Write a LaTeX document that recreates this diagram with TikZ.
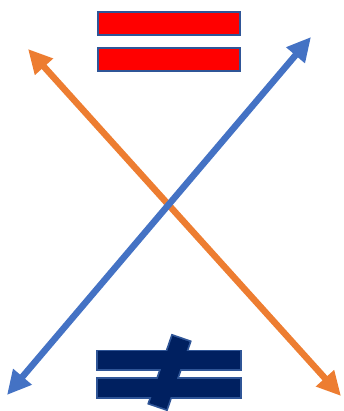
\documentclass[tikz,border=0pt]{standalone}
\usepackage{tikz}
\usetikzlibrary{arrows.meta}

\definecolor{eqred}{HTML}{FF0000}
\definecolor{neqnavy}{HTML}{002060}
\definecolor{barline}{HTML}{2F5597}
\definecolor{crossorange}{HTML}{ED7D31}
\definecolor{crossblue}{HTML}{4472C4}

\begin{document}
\begin{tikzpicture}[
    x=1pt, y=1pt,
    bar/.style={rectangle, draw=barline, line width=2pt, minimum width=142pt, inner sep=0pt},
    eqbar/.style={bar, fill=eqred, minimum height=23pt},
    neqbar/.style={bar, fill=neqnavy, minimum height=18pt},
    slash/.style={bar, fill=neqnavy, minimum width=18pt, minimum height=71pt, rotate=-19},
    outline/.style={line width=3.5pt},
    fillonly/.style={draw=none},
    both/.style={{Triangle[length=24pt,width=23pt]}-{Triangle[length=24pt,width=23pt]}, line width=6.5pt}
]
    \useasboundingbox (0,0) rectangle (343,411);

    % --- EQUAL SIGN ---
    \node[eqbar] (EqTop) at (169, 387) {};
    \node[eqbar] (EqBottom) at (169, 351) {};

    % --- NOT EQUAL SIGN (outlines first, then fills so it reads as one shape) ---
    \node[neqbar, outline] (NeqTop) at (169, 50.5) {};
    \node[neqbar, outline] (NeqBottom) at (169, 23) {};
    \node[slash, outline] (NeqSlash) at (169.5, 38.5) {};
    \node[neqbar, fillonly] (NeqTopFill) at (NeqTop) {};
    \node[neqbar, fillonly] (NeqBottomFill) at (NeqBottom) {};
    \node[slash, fillonly] (NeqSlashFill) at (NeqSlash) {};

    % --- CROSSING ARROWS ---
    \coordinate (OrangeStart) at (28, 362);
    \coordinate (OrangeEnd) at (341, 15);
    \coordinate (BlueStart) at (311, 374);
    \coordinate (BlueEnd) at (7, 16);

    \draw[both, draw=crossorange, fill=crossorange] (OrangeStart) -- (OrangeEnd);
    \draw[both, draw=crossblue, fill=crossblue] (BlueStart) -- (BlueEnd);

\end{tikzpicture}
\end{document}
